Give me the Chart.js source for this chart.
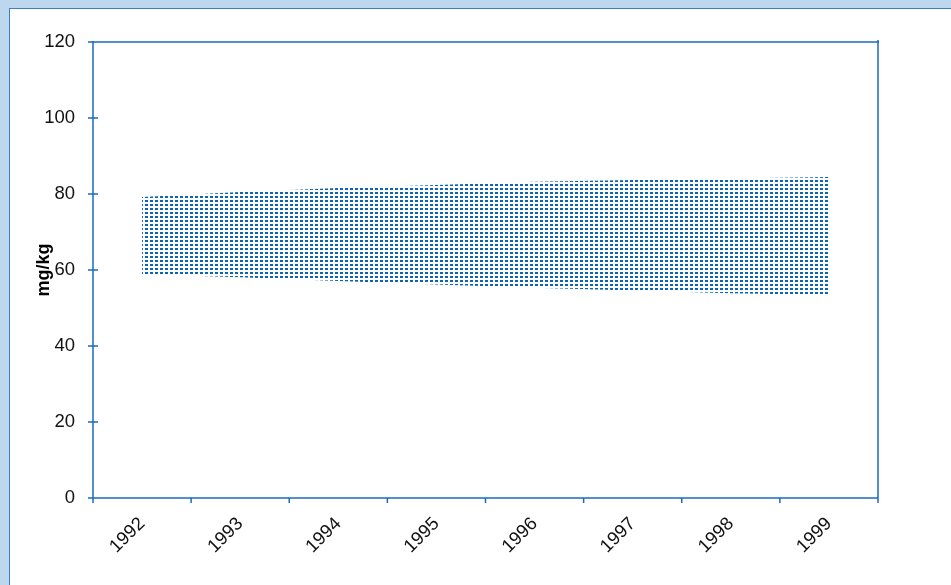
<!DOCTYPE html>
<html>
<head>
<meta charset="utf-8">
<script src="https://cdn.jsdelivr.net/npm/chart.js@4.4.1/dist/chart.umd.min.js"></script>
<style>
    html, body { margin: 0; padding: 0; }
    body { width: 951px; height: 585px; background: #bdd7ee; position: relative; overflow: hidden; }
    #panel { position: absolute; left: 9px; top: 8px; right: 0; bottom: 0; background: #fff;
             border-left: 1px solid #3a7fc8; border-top: 1px solid #3a7fc8; }
    #wrap { position: absolute; left: 0; top: 0; width: 951px; height: 585px; }
</style>
</head>
<body>
<div id="panel"></div>
<div id="wrap"><canvas id="chart" width="951" height="585"></canvas></div>
<script>
// Chart data
const years = ['1992', '1993', '1994', '1995', '1996', '1997', '1998', '1999'];
const lowerValues = [58.9, 58.1, 57.1, 56.2, 55.3, 54.6, 53.9, 53.4];
const upperValues = [79.2, 80.5, 81.6, 82.4, 83.2, 83.7, 84.1, 84.5];
const yTicks = [0, 20, 40, 60, 80, 100, 120];

const axisColor = '#1a6bc0';
const dotColor = '#0a63b5';
const tickFont = { family: "'Liberation Sans', Arial, sans-serif", size: 18.5 };

// dotted pattern fill like the spreadsheet band
function makePattern() {
    const c = document.createElement('canvas');
    c.width = 5;
    c.height = 4;
    const g = c.getContext('2d');
    g.fillStyle = dotColor;
    g.fillRect(0, 0, 3, 2);
    return g.createPattern(c, 'repeat');
}

// axis box with tick marks
const axisBox = {
    id: 'axisBox',
    afterDraw(chart) {
        const { ctx, chartArea: a, scales } = chart;
        ctx.save();
        ctx.strokeStyle = axisColor;
        ctx.lineWidth = 1.5;
        ctx.beginPath();
        ctx.moveTo(a.left, a.top - 1);
        ctx.lineTo(a.left, a.bottom + 5);
        ctx.moveTo(a.left - 5, a.top);
        ctx.lineTo(a.right + 1, a.top);
        ctx.moveTo(a.right, a.top - 2);
        ctx.lineTo(a.right, a.bottom + 5);
        ctx.moveTo(a.left - 5, a.bottom);
        ctx.lineTo(a.right, a.bottom);
        yTicks.forEach(v => {
            const y = scales.y.getPixelForValue(v);
            ctx.moveTo(a.left - 5, y);
            ctx.lineTo(a.left + 5, y);
        });
        const step = (a.right - a.left) / years.length;
        for (let i = 0; i <= years.length; i++) {
            const x = a.left + step * i;
            ctx.moveTo(x, a.bottom);
            ctx.lineTo(x, a.bottom + 5);
        }
        ctx.stroke();
        ctx.restore();
    }
};

new Chart(document.getElementById('chart').getContext('2d'), {
    type: 'line',
    data: {
        labels: years,
        datasets: [
            { data: lowerValues, borderWidth: 0, pointRadius: 0, fill: false, tension: 0 },
            { data: upperValues, borderWidth: 0, pointRadius: 0, fill: '-1', tension: 0,
              backgroundColor: makePattern() }
        ]
    },
    options: {
        responsive: false,
        animation: false,
        layout: { padding: { left: 0, top: 42, right: 73, bottom: 0 } },
        plugins: { legend: { display: false }, tooltip: { enabled: false } },
        scales: {
            x: {
                type: 'category',
                offset: true,
                grid: { display: false },
                border: { display: false },
                ticks: { color: '#111', font: tickFont, minRotation: 45, maxRotation: 45, autoSkip: false, padding: 7 },
                afterFit(scale) { scale.height = 87; }
            },
            y: {
                min: 0,
                max: 120,
                grid: { display: false },
                border: { display: false },
                ticks: { stepSize: 20, color: '#111', font: tickFont, padding: 10 },
                title: {
                    display: true,
                    text: 'mg/kg',
                    color: '#000',
                    font: { family: "'Liberation Sans', Arial, sans-serif", size: 18, weight: 'bold' },
                    padding: { top: 33, bottom: 0 }
                },
                afterFit(scale) { scale.width = 93; }
            }
        }
    },
    plugins: [axisBox]
});
</script>
</body>
</html>
